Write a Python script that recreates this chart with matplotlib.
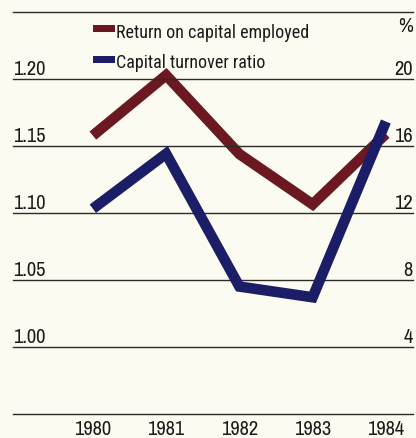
import matplotlib
matplotlib.use("Agg")
import matplotlib.pyplot as plt
from matplotlib import transforms, font_manager
from matplotlib.patches import Rectangle

# condensed grotesque faces: one for words, a narrower one for figures
_available = {f.name for f in font_manager.fontManager.ttflist}


def _pick(prefs):
    return next((p for p in prefs if p in _available), "DejaVu Sans")


WORD_FACE = [_pick(["Roboto Condensed", "Archivo Narrow", "Liberation Sans Narrow"]), "DejaVu Sans"]
NUM_FACE = [_pick(["Pragati Narrow", "Archivo Narrow", "Roboto Condensed"]), "DejaVu Sans"]
plt.rcParams['font.family'] = WORD_FACE

years = [1980, 1981, 1982, 1983, 1984]
capital_turnover = [1.103, 1.144, 1.045, 1.037, 1.168]      # left scale (ratio)
return_on_capital = [16.6, 20.2, 15.5, 12.5, 16.7]          # right scale (%)

left_ticks = [1.00, 1.05, 1.10, 1.15, 1.20]
left_labels = ["1.00", "1.05", "1.10", "1.15", "1.20"]
right_ticks = [4, 8, 12, 16, 20]
right_labels = ["4", "8", "12", "16", "20"]
grid_levels = [0.95, 1.00, 1.05, 1.10, 1.15, 1.20, 1.25]

RED = "#6b1822"
BLUE = "#1b1d66"
BG = "#fcfbf1"
GRID = "#2a2a28"
TXT = "#1a1a1a"

fig = plt.figure(figsize=(4.16, 4.39), dpi=100, facecolor=BG)
ax2 = fig.add_axes([13 / 416, 24 / 439, 400 / 416, 402.5 / 439])
ax2.set_facecolor(BG)
ax2.set_ylim(0, 24)
ax = fig.add_axes(ax2.get_position())
ax.patch.set_visible(False)
for a in (ax, ax2):
    a.set_xlim(1978.91, 1984.37)
    for s in a.spines.values():
        s.set_visible(False)
    a.set_xticks([])
    a.set_yticks([])
ax.set_ylim(0.95, 1.25)

for g in grid_levels:
    ax.axhline(g, color=GRID, lw=1.0, zorder=1, clip_on=False)

ax2.plot(years, return_on_capital, color=RED, lw=7.6,
         solid_joinstyle="miter", solid_capstyle="butt", zorder=3)
ax.plot(years, capital_turnover, color=BLUE, lw=7.6,
        solid_joinstyle="miter", solid_capstyle="butt", zorder=4)

tl = transforms.blended_transform_factory(ax.transAxes, ax.transData)
for v, lab in zip(left_ticks, left_labels):
    ax.text(0.0, v + 0.0035, lab, transform=tl, ha="left", va="baseline",
            fontsize=16, color=TXT, family=NUM_FACE)

tr = transforms.blended_transform_factory(ax2.transAxes, ax2.transData)
for v, lab in zip(right_ticks, right_labels):
    ax2.text(1.0, v + 0.28, lab, transform=tr, ha="right", va="baseline",
             fontsize=16, color=TXT, family=NUM_FACE)
ax2.text(1.0, 22.85, "%", transform=tr, ha="right", va="baseline",
         fontsize=16, color=TXT, family=NUM_FACE)

tx = transforms.blended_transform_factory(ax.transData, ax.transAxes)
for y in years:
    ax.text(y, -0.013, str(y), transform=tx, ha="center", va="top",
            fontsize=16, color=TXT, family=NUM_FACE)

# legend
items = [("Return on capital employed", RED, 38, 26), ("Capital turnover ratio", BLUE, 68, 57)]
for text, col, base_px, patch_top in items:
    fig.patches.append(Rectangle((93 / 416, 1 - (patch_top + 7) / 439), 22 / 416, 7 / 439,
                                 transform=fig.transFigure, facecolor=col, edgecolor="none"))
    fig.text(116 / 416, 1 - base_px / 439, text, ha="left", va="baseline",
             fontsize=13, color=TXT)

fig.savefig("out.png", dpi=100, facecolor=BG)
